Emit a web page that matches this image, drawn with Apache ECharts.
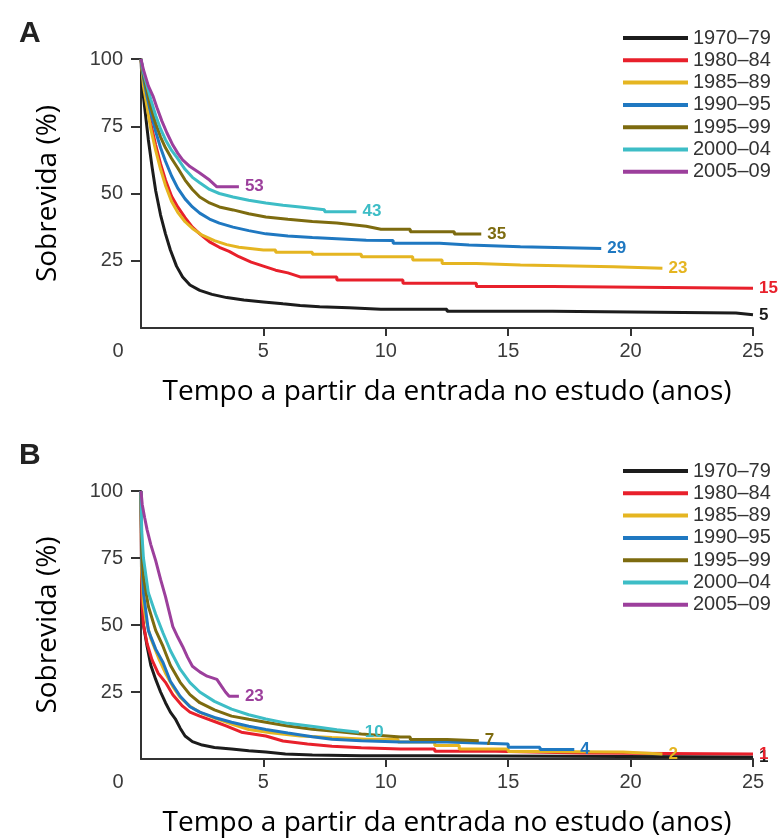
<!DOCTYPE html>
<html>
<head>
<meta charset="utf-8">
<script src="https://cdn.jsdelivr.net/npm/echarts@6/dist/echarts.min.js"></script>
<style>
  html, body { margin: 0; padding: 0; background: #fff; }
  #chart { width: 784px; height: 838px; }
</style>
</head>
<body>
<div id="chart"></div>
<script>
// Series names (periodo de entrada)
const names = ['1970\u201379', '1980\u201384', '1985\u201389', '1990\u201395', '1995\u201399', '2000\u201304', '2005\u201309'];
const colors = ['#1c1c1c', '#e8202b', '#e5b521', '#1f78c1', '#7d6b0f', '#3dbdc6', '#9c3f9c'];

// Painel A: [anos, sobrevida %] - vertices of the KM curves (steps in the tail)
const a1970 = [[0,100],[0.05,90],[0.15,82],[0.3,70],[0.45,60],[0.6,51],[0.8,42],[1.0,35],[1.2,29],[1.45,23],[1.7,19],[2.0,16],[2.4,14],[2.9,12.5],[3.5,11.3],[4.2,10.4],[5.0,9.7],[5.8,9],[6.5,8.4],[7.3,7.9],[8.5,7.5],[9.8,7.0],[12.5,7.0],[12.5,6.2],[16.8,6.2],[16.8,5.6],[24.3,5.6],[24.3,4.9],[25,4.9]];
const a1980 = [[0,100],[0.1,92],[0.25,84],[0.4,76],[0.6,68],[0.8,61],[1.0,55],[1.25,49],[1.5,45],[1.8,41],[2.1,37.5],[2.4,35],[2.8,32],[3.2,30],[3.6,28.5],[4.0,26.5],[4.5,24.5],[5.0,23],[5.5,21.5],[6.0,20.5],[6.5,19],[8.0,19],[8.0,17.8],[10.7,17.8],[10.7,16.6],[13.7,16.6],[13.7,15.4],[16.8,15.4],[16.8,14.8],[25,14.8]];
const a1985 = [[0,100],[0.1,90],[0.25,82],[0.4,74],[0.6,66],[0.8,59],[1.0,53],[1.25,47],[1.5,43],[1.8,39.5],[2.1,37],[2.5,34.5],[3.0,32.5],[3.5,31],[4.0,30],[5.0,29],[5.5,29],[5.5,28.2],[7.0,28.2],[7.0,27.4],[9.0,27.4],[9.0,26.5],[11.1,26.5],[11.1,25.3],[12.3,25.3],[12.3,24],[13.7,24],[13.7,23.4],[15.5,23.4],[15.5,22.8],[19.3,22.8],[19.3,22.2],[21.3,22.2]];
const a1990 = [[0,100],[0.1,93],[0.25,86],[0.4,80],[0.6,73],[0.8,67],[1.0,62],[1.25,56.5],[1.5,52],[1.8,48],[2.1,45],[2.4,42.7],[2.8,40.5],[3.2,39],[3.76,37.5],[4.4,36.2],[5.1,35],[6,34.2],[7,33.6],[8,33.2],[9.2,32.6],[10.3,32.5],[10.3,31.5],[12.2,31.5],[12.2,30.9],[13.4,30.9],[13.4,30.2],[15.5,30.2],[15.5,29.6],[18.8,29.6]];
const a1995 = [[0,100],[0.1,94],[0.25,88],[0.4,82],[0.6,76],[0.8,71],[1.0,67],[1.25,63],[1.5,59.5],[1.8,55],[2.1,51.5],[2.4,48.7],[2.8,46.5],[3.2,45],[3.76,43.9],[4.4,42.5],[5.1,41.3],[6,40.4],[7,39.6],[8,39],[9.2,37.8],[9.8,36.7],[11,36.7],[11,35.8],[12.8,35.8],[12.8,34.9],[13.9,34.9]];
const a2000 = [[0,100],[0.1,95],[0.25,90],[0.4,85],[0.6,79],[0.8,74],[1.0,70],[1.25,66],[1.5,63],[1.8,59],[2.1,56],[2.4,54],[2.8,51.5],[3.2,50],[3.76,48.7],[4.4,47.5],[5.1,46.5],[5.8,45.6],[6.5,45],[7.5,44],[7.5,43.2],[8.8,43.2]];
const a2005 = [[0,100],[0.1,96],[0.3,90],[0.5,86],[0.65,82],[0.85,77],[1.06,72.5],[1.3,68],[1.5,65],[1.7,62.5],[2.0,60],[2.4,57.6],[2.8,55],[3.1,52.5],[4.0,52.5]];
const endA = ['5', '15', '23', '29', '35', '43', '53'];

// Painel B: [anos, sobrevida %]
const b1970 = [[0,100],[0.03,55],[0.1,50],[0.25,42],[0.4,35],[0.6,29.7],[0.8,25],[1.0,21],[1.2,17.5],[1.4,15],[1.6,11.5],[1.8,8.6],[2.1,6.5],[2.5,5.2],[3.0,4.3],[3.7,3.7],[4.4,3.1],[5.1,2.6],[5.9,1.9],[7,1.5],[9,1.2],[11.8,1.2],[11.8,0.7],[25,0.7]];
const b1980 = [[0,100],[0.03,60],[0.1,50],[0.25,43],[0.45,37],[0.7,32],[1.0,28.6],[1.3,24],[1.7,19.7],[2.0,17.5],[2.4,16],[3.0,14],[3.5,12.3],[4.1,10],[5.1,8.6],[5.8,6.7],[6.8,5.6],[7.8,4.8],[9,4.2],[10.6,3.7],[12,3.7],[12,2.9],[14.5,2.9],[14.5,2.2],[18,2.2],[18,1.9],[25,1.9]];
const b1985 = [[0,100],[0.03,70],[0.1,58],[0.2,52],[0.4,45],[0.75,37],[1.0,32],[1.3,27],[1.6,23],[2.0,19.7],[2.5,17],[3.1,15],[3.7,13],[4.4,11],[5.3,9.8],[6.5,8.6],[7.8,8],[9.2,7.4],[10.5,7.4],[10.5,6.3],[12,6.3],[12,5],[13,5],[13,3.7],[15,3.7],[15,2.8],[16,2.8],[16,2.6],[19.7,2.6],[19.7,1.9],[21.3,1.9]];
const b1990 = [[0,100],[0.03,75],[0.1,62],[0.3,48],[0.6,41],[0.9,36],[1.2,29],[1.6,23.4],[2.0,19.5],[2.4,17.5],[3.0,15.5],[3.7,13.7],[4.4,12.2],[5.1,11],[6,9.7],[7,8.3],[7.8,7.4],[9,6.8],[10.6,6.3],[12.5,6.3],[12.5,5.6],[15,5.6],[15,4.4],[16.3,4.4],[16.3,3.5],[17.7,3.5]];
const b1995 = [[0,100],[0.03,78],[0.1,68],[0.3,57],[0.6,48],[0.9,42],[1.2,35],[1.6,28.6],[2.0,24],[2.4,21],[3.0,18.3],[3.7,16],[4.4,14.8],[5.1,13.7],[6,12.3],[7,11.1],[7.8,10.4],[9,9.3],[10.6,8.2],[11,8.2],[11,7.3],[12.5,7.3],[12.5,6.8],[13.8,6.8]];
const b2000 = [[0,100],[0.03,85],[0.1,75],[0.3,62],[0.6,54],[0.9,47],[1.2,40.5],[1.6,33.5],[2.0,28.5],[2.4,25],[3.0,21.5],[3.7,18.6],[4.4,16.5],[5.1,14.9],[6,13.3],[7.2,11.9],[8,10.9],[8.9,10]];
const b2005 = [[0,100],[0.05,95],[0.15,90],[0.25,85.5],[0.4,80],[0.6,74],[0.8,67],[1.0,60.6],[1.15,55],[1.3,49.4],[1.5,45.5],[1.7,42],[1.9,38],[2.1,34.6],[2.4,32.5],[2.7,30.9],[3.1,29.7],[3.3,27],[3.45,25],[3.6,23.4],[4.0,23.4]];
const endB = ['1', '1', '2', '4', '7', '10', '23'];

const xTicks = [0, 5, 10, 15, 20, 25];
const yTicks = [25, 50, 75, 100];

const panelA = [a1970, a1980, a1985, a1990, a1995, a2000, a2005];
const panelB = [b1970, b1980, b1985, b1990, b1995, b2000, b2005];

const tickFont = 'Liberation Sans, Arial, sans-serif';
const titleFont = 'Open Sans, Noto Sans, sans-serif';

function makeX(idx) {
    return {
        type: 'value', gridIndex: idx, min: 0, max: 25, interval: 5,
        splitLine: { show: false },
        axisLine: { lineStyle: { color: '#333', width: 2 } },
        axisTick: { show: true, length: 8, customValues: xTicks.slice(1), lineStyle: { color: '#333', width: 2 } },
        axisLabel: {
            margin: 13, fontSize: 20, color: '#3a3a3a', fontFamily: tickFont,
            formatter: function (v) { return v === 0 ? '{z|0}' : String(v); },
            rich: { z: { fontSize: 20, color: '#3a3a3a', fontFamily: tickFont, padding: [0, 46, 0, 0] } }
        },
        name: 'Tempo a partir da entrada no estudo (anos)',
        nameLocation: 'middle', nameGap: 50,
        nameTextStyle: { fontSize: 28, color: '#000', fontFamily: titleFont }
    };
}

function makeY(idx) {
    return {
        type: 'value', gridIndex: idx, min: 0, max: 100, interval: 25,
        splitLine: { show: false },
        axisLine: { show: true, lineStyle: { color: '#333', width: 2 } },
        axisTick: { show: true, length: 10, customValues: yTicks, lineStyle: { color: '#333', width: 2 } },
        axisLabel: { margin: 18, fontSize: 20, color: '#3a3a3a', fontFamily: tickFont, showMinLabel: false },
        name: 'Sobrevida (%)',
        nameLocation: 'middle', nameGap: 79,
        nameTextStyle: { fontSize: 28, color: '#000', fontFamily: titleFont }
    };
}

function makeSeries(panel, labels, idx) {
    return panel.map(function (d, i) {
        return {
            name: names[i], type: 'line',
            xAxisIndex: idx, yAxisIndex: idx,
            data: d, showSymbol: false, symbol: 'none',
            lineStyle: { color: colors[i], width: 3 },
            itemStyle: { color: colors[i] },
            endLabel: {
                show: true, distance: 6,
                formatter: function () { return labels[i]; },
                color: colors[i], fontSize: 17, fontWeight: 'bold', fontFamily: tickFont
            },
            animation: false
        };
    });
}

function makeLegend(top) {
    return {
        orient: 'vertical', left: 618, top: top,
        data: names, icon: 'rect', itemWidth: 65, itemHeight: 4, itemGap: 2.3,
        textStyle: { fontSize: 20, color: '#333', fontFamily: tickFont }
    };
}

var chartDom = document.getElementById('chart');
var myChart = echarts.init(chartDom);
var option = {
    backgroundColor: '#fff',
    title: [
        { text: 'A', left: 14, top: 14, textStyle: { fontSize: 30, fontWeight: 'bold', color: '#222', fontFamily: tickFont } },
        { text: 'B', left: 14, top: 436, textStyle: { fontSize: 30, fontWeight: 'bold', color: '#222', fontFamily: tickFont } }
    ],
    legend: [makeLegend(23), makeLegend(456)],
    grid: [
        { left: 141, right: 31, top: 59, height: 269 },
        { left: 141, right: 31, top: 491, height: 269 }
    ],
    xAxis: [makeX(0), makeX(1)],
    yAxis: [makeY(0), makeY(1)],
    series: makeSeries(panelA, endA, 0).concat(makeSeries(panelB, endB, 1))
};
myChart.setOption(option);
window.addEventListener('resize', myChart.resize);
</script>
</body>
</html>
